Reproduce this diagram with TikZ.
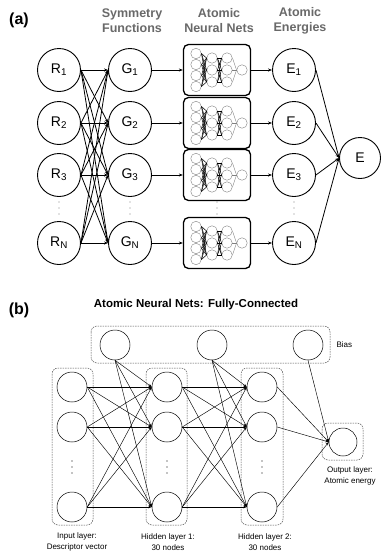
\documentclass[tikz,border=0pt]{standalone}
\usepackage{fontspec}
\setmainfont{Liberation Sans}
\usetikzlibrary{arrows.meta}
\definecolor{hdr}{RGB}{105,105,105}
\begin{document}
\begin{tikzpicture}[x=1pt,y=-1pt,
  bigc/.style={draw,circle,line width=0.9pt,minimum size=43pt,inner sep=0pt,font=\fontsize{14}{14}\selectfont},
  netbox/.style={draw,rounded corners=5pt,line width=1.3pt,minimum width=67pt,minimum height=51pt,inner sep=0pt},
  arr/.style={line width=0.8pt,-{Stealth[length=4pt,width=3pt]}},
  hdrtext/.style={text=hdr,font=\bfseries\fontsize{12.5}{15}\selectfont,align=center},
  mc/.style={draw=gray!90,line width=0.45pt,circle,minimum size=10.5pt,inner sep=0pt},
  ml/.style={line width=0.5pt},
  sc/.style={draw,circle,line width=0.5pt,minimum size=30pt,inner sep=0pt},
  dbox/.style={draw=black!70,dashed,dash pattern=on 1.5pt off 1pt,line width=0.5pt,rounded corners=6pt},
  thin arr/.style={line width=0.45pt,-{Stealth[length=3.5pt,width=2.6pt]}},
  lbl/.style={font=\fontsize{8}{11}\selectfont,align=center},
  lettr/.style={font=\bfseries\fontsize{16}{16}\selectfont}
]
\useasboundingbox (0,0) rectangle (381,557);
% ---------- (a)
\node[lettr] (la) at (19,20) {(a)};
\node[hdrtext] (h1) at (132,21) {Symmetry\\Functions};
\node[hdrtext] (h2) at (219,21) {Atomic\\Neural Nets};
\node[hdrtext] (h3) at (300,21) {Atomic\\Energies};

\foreach \i/\y/\s in {1/70/1,2/123/2,3/175/3,4/243/N}{
  \node[bigc] (R\i) at (59,\y) {R\textsubscript{\s}};
  \node[bigc] (G\i) at (130,\y) {G\textsubscript{\s}};
  \node[netbox] (B\i) at (217,\y) {};
  \node[bigc] (E\i) at (294,\y) {E\textsubscript{\s}};
}
\node[bigc,minimum size=41pt] (E) at (360,158) {E};
\foreach \x in {59,130,217,294}
  \foreach \y in {202,208,214}
    \fill[gray] (\x,\y) circle (0.6pt);

% mini nets
\foreach \i in {1,2,3,4}{
  \foreach \k/\dy in {1/-16.5,2/-5.5,3/5.5,4/16.5}
    \node[mc] (a\i\k) at ([shift={(-21,\dy)}]B\i.center) {};
  \foreach \k/\dy in {1/-12,2/0,3/12}{
    \node[mc] (b\i\k) at ([shift={(-5,\dy)}]B\i.center) {};
    \node[mc] (c\i\k) at ([shift={(10,\dy)}]B\i.center) {};
  }
  \node[mc] (o\i) at ([shift={(25,0)}]B\i.center) {};
  \foreach \p in {1,2,3,4}
    \foreach \q in {1,2,3}
      \draw[ml] (a\i\p.east) -- (b\i\q.west);
  \foreach \p in {1,2,3}{
    \foreach \q in {1,2,3}
      \draw[ml] (b\i\p.east) -- (c\i\q.west);
    \draw[draw=gray,line width=0.35pt] (c\i\p.east) -- (o\i.west);
  }
}

\foreach \i in {1,2,3,4}{
  \foreach \j in {1,2,3,4}
    \draw[arr] (R\i.east) -- (G\j.west);
  \draw[arr] (G\i.east) -- (B\i.west);
  \draw[arr] (B\i.east) -- (E\i.west);
  \draw[arr] (E\i.east) -- (E.west);
}

% ---------- (b)
\node[lettr] (lb) at (19,310) {(b)};
\node[font=\bfseries\fontsize{11.5}{12}\selectfont] (title) at (196,305) {Atomic Neural Nets: Fully-Connected};

\draw[dbox] (91,326) rectangle (330,363);
\draw[dbox] (52,368) rectangle (93,525);
\draw[dbox] (146,368) rectangle (187,525);
\draw[dbox] (241,368) rectangle (283,525);
\draw[dbox] (322,423) rectangle (363,460);

\node[sc] (s1) at (115,345) {};
\node[sc] (s2) at (212,345) {};
\node[sc] (s3) at (308,345) {};
\node[lbl,anchor=west] (bias) at (333,345) {Bias};

\foreach \k/\y in {1/387,2/427,3/507}{
  \node[sc] (I\k) at (72,\y) {};
  \node[sc] (H\k) at (167,\y) {};
  \node[sc] (K\k) at (262,\y) {};
}
\node[sc,minimum size=28pt] (O) at (343,442) {};
\foreach \x in {72,167,262}
  \foreach \y in {461,467,473}
    \fill (\x,\y) circle (0.55pt);

\foreach \p in {1,2,3}{
  \foreach \q in {1,2,3}{
    \draw[thin arr] (I\p.east) -- (H\q.west);
    \draw[thin arr] (H\p.east) -- (K\q.west);
  }
  \draw[thin arr] (s1.south) -- (H\p.west);
  \draw[thin arr] (s2.south) -- (K\p.west);
  \draw[thin arr] (K\p.east) -- (O.west);
}
\draw[thin arr] (s3.south) -- (O.west);

\node[lbl] (t1) at (77,542) {Input layer:\\Descriptor vector};
\node[lbl] (t2) at (168,542) {Hidden layer 1:\\30 nodes};
\node[lbl] (t3) at (265,542) {Hidden layer 2:\\30 nodes};
\node[lbl] (t4) at (350,476) {Output layer:\\Atomic energy};
\end{tikzpicture}
\end{document}
